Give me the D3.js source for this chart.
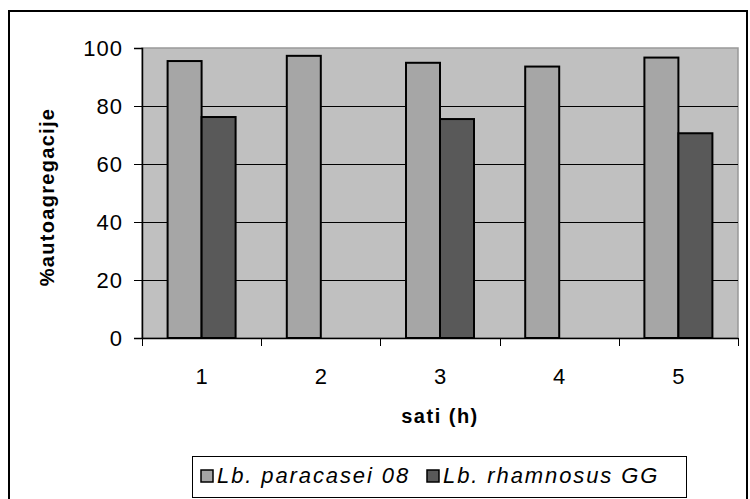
<!DOCTYPE html>
<html>
<head>
<meta charset="utf-8">
<script src="https://cdn.jsdelivr.net/npm/d3@7"></script>
<style>
  html, body { margin: 0; padding: 0; background: #ffffff; }
  svg { display: block; }
  text { font-family: "Liberation Sans", Arial, sans-serif; }
</style>
</head>
<body>
<svg id="chart" width="750" height="499"></svg>
<script>
const categories = ["1", "2", "3", "4", "5"];
const seriesNames = ["Lb. paracasei 08", "Lb. rhamnosus GG"];
const paracasei = [95.5, 97.3, 94.9, 93.6, 96.7];
const rhamnosus = [76.2, null, 75.5, null, 70.6];
const yTicks = [0, 20, 40, 60, 80, 100];
const xTitle = "sati (h)";
const yTitle = "%autoagregacije";

const colors = ["#a6a6a6", "#595959"];
const series = [paracasei, rhamnosus];

const svg = d3.select("#chart");

// outer chart border
svg.append("rect")
  .attr("x", 9).attr("y", 11).attr("width", 738).attr("height", 500)
  .attr("fill", "#ffffff").attr("stroke", "#000").attr("stroke-width", 2);

const plot = { left: 142, right: 738, top: 48, bottom: 338 };

const x0 = d3.scaleBand().domain(categories).range([plot.left, plot.right]).padding(0);
const groupPad = (x0.bandwidth() - 68) / 2;
const x1 = d3.scaleBand().domain(d3.range(series.length))
  .range([groupPad, x0.bandwidth() - groupPad]).padding(0);
const y = d3.scaleLinear().domain([0, 100]).range([plot.bottom, plot.top]);

// plot background
svg.append("rect")
  .attr("x", plot.left).attr("y", plot.top)
  .attr("width", plot.right - plot.left).attr("height", plot.bottom - plot.top)
  .attr("fill", "#c0c0c0").attr("stroke", "#999999").attr("stroke-width", 1.5);

// gridlines
svg.append("g").selectAll("line")
  .data(yTicks.filter(t => t > 0 && t < 100))
  .join("line")
  .attr("x1", plot.left).attr("x2", plot.right)
  .attr("y1", d => Math.round(y(d)) + 0.5).attr("y2", d => Math.round(y(d)) + 0.5)
  .attr("stroke", "#000").attr("stroke-width", 1);

// bars
const groups = svg.append("g").selectAll("g")
  .data(categories)
  .join("g")
  .attr("transform", d => `translate(${x0(d)},0)`);

groups.selectAll("rect")
  .data((d, i) => series.map((s, k) => ({ k, v: s[i] })).filter(e => e.v != null))
  .join("rect")
  .attr("x", e => x1(e.k))
  .attr("y", e => y(e.v))
  .attr("width", x1.bandwidth())
  .attr("height", e => y(0) - y(e.v))
  .attr("fill", e => colors[e.k])
  .attr("stroke", "#000").attr("stroke-width", 2);

// y axis
const yAxis = svg.append("g")
  .attr("transform", `translate(${plot.left},0)`)
  .call(d3.axisLeft(y).tickValues(yTicks).tickSize(8).tickPadding(11));
yAxis.select(".domain").attr("stroke", "#000").attr("stroke-width", 1.5);
yAxis.selectAll(".tick line").attr("stroke", "#000").attr("stroke-width", 1);
yAxis.selectAll(".tick text")
  .attr("font-size", 22).attr("fill", "#000")
  .attr("font-family", "Liberation Sans, Arial, sans-serif")
  .style("letter-spacing", "1px");

// x axis with ticks at category boundaries
const xAxis = svg.append("g")
  .attr("transform", `translate(0,${plot.bottom})`)
  .call(d3.axisBottom(x0).tickSize(0).tickPadding(30));
xAxis.select(".domain").attr("stroke", "#000").attr("stroke-width", 1.5);
xAxis.selectAll(".tick text")
  .attr("font-size", 22).attr("fill", "#000")
  .attr("font-family", "Liberation Sans, Arial, sans-serif");
const boundaries = categories.map(c => x0(c)).concat([x0.range()[1]]);
xAxis.append("g").selectAll("line")
  .data(boundaries)
  .join("line")
  .attr("x1", d => Math.round(d) + 0.5).attr("x2", d => Math.round(d) + 0.5)
  .attr("y1", 0).attr("y2", 8)
  .attr("stroke", "#000").attr("stroke-width", 1);

// axis titles
svg.append("text")
  .attr("x", (plot.left + plot.right) / 2).attr("y", 423)
  .attr("text-anchor", "middle")
  .attr("font-size", 20).attr("font-weight", "bold")
  .style("letter-spacing", "1.5px")
  .text(xTitle);

svg.append("text")
  .attr("transform", `translate(54,${(plot.top + plot.bottom) / 2 + 4}) rotate(-90)`)
  .attr("text-anchor", "middle")
  .attr("font-size", 20).attr("font-weight", "bold")
  .style("letter-spacing", "1.3px")
  .text(yTitle);

// legend
const legend = svg.append("g");
legend.append("rect")
  .attr("x", 192.5).attr("y", 456.5).attr("width", 494).attr("height", 41)
  .attr("fill", "#fff").attr("stroke", "#000").attr("stroke-width", 1);
const legendX = [201, 427];
seriesNames.forEach((name, k) => {
  legend.append("rect")
    .attr("x", legendX[k]).attr("y", 470).attr("width", 12).attr("height", 12)
    .attr("fill", colors[k]).attr("stroke", "#000").attr("stroke-width", 1.5);
  legend.append("text")
    .attr("x", legendX[k] + 16).attr("y", 483)
    .attr("font-size", 22).attr("font-style", "italic")
    .style("letter-spacing", "1.9px")
    .text(name);
});
</script>
</body>
</html>
